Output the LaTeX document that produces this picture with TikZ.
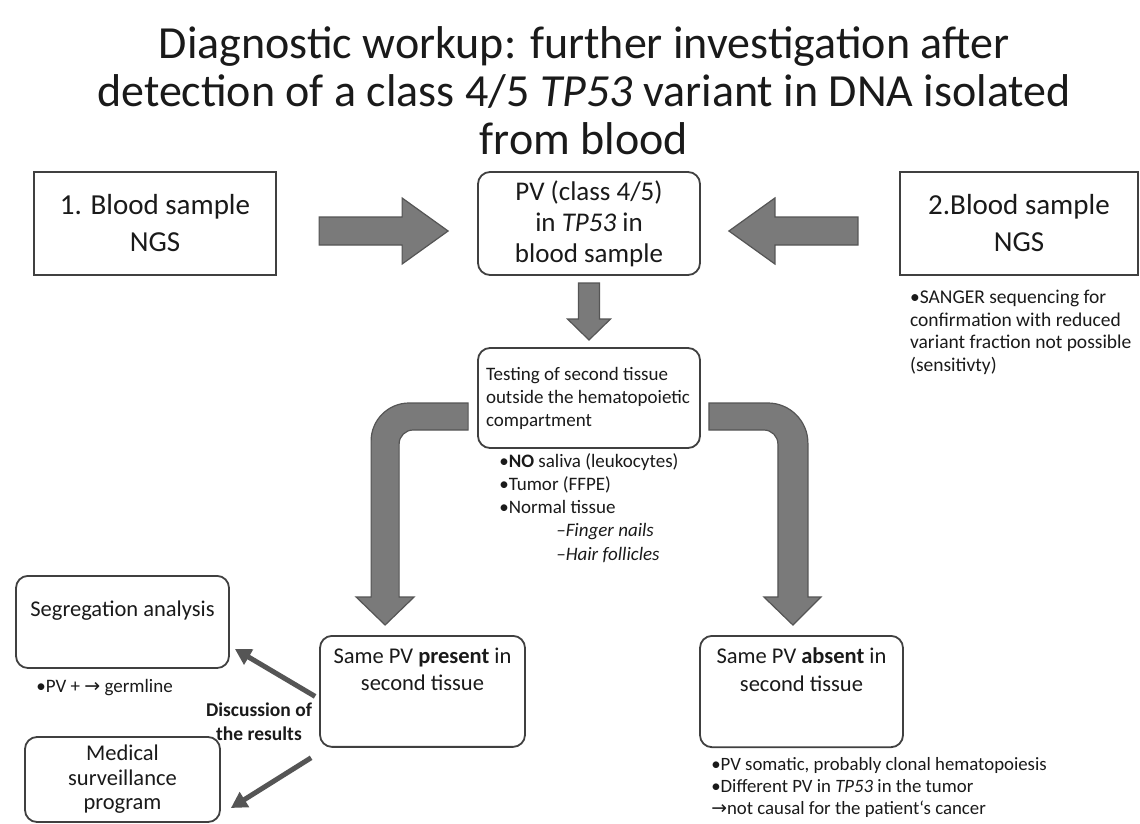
\documentclass[tikz,border=0pt]{standalone}
\usepackage{fontspec}
\setmainfont{Carlito}
\newfontfamily\symfont{DejaVu Sans}
\usetikzlibrary{arrows.meta,positioning,calc}
\definecolor{edge}{HTML}{404040}
\definecolor{fatfill}{HTML}{7A7A7A}
\definecolor{fatedge}{HTML}{555555}
\definecolor{ink}{HTML}{1A1A1A}
\tikzset{
  sqbox/.style={draw=edge, fill=white, line width=2.2pt, align=center, inner sep=4pt,
                text=ink, font=\fontsize{29}{37}\selectfont},
  rbox/.style={draw=edge, fill=white, line width=1.8pt, rounded corners=12pt,
               align=center, inner sep=4pt, text=ink, font=\fontsize{22.5}{27.5}\selectfont},
  note/.style={align=left, inner sep=0pt, text=ink, font=\fontsize{19}{22.5}\selectfont},
  fat/.style={fill=fatfill, draw=fatedge, line width=1.2pt},
  discarrow/.style={draw=fatedge, line width=5pt, -{Triangle[length=16pt,width=17pt]}}
}

\begin{document}
\begin{tikzpicture}[x=1pt,y=-1pt]
  \useasboundingbox (0,0) rectangle (1140,824);
  \fill[white] (0,0) rectangle (1140,824);

  \node[font=\fontsize{46}{48}\selectfont, align=center, text=ink] (title) at (584,91)
    {Diagnostic workup: further investigation after\\
     detection of a class 4/5 \textit{TP53} variant in DNA isolated\\
     from blood};

  % top row
  \node[sqbox, minimum width=242pt, minimum height=103pt] (ngs1) at (155,223.5) {1. Blood sample\\NGS};
  \node[rbox, font=\fontsize{27}{31}\selectfont, minimum width=222pt, minimum height=103pt] (pv) at (589,223.5)
    {PV (class 4/5)\\in \textit{TP53} in\\blood sample};
  \node[sqbox, minimum width=238pt, minimum height=103pt] (ngs2) at (1019,223.5) {2.Blood sample\\NGS};
  \node[note, font=\fontsize{19.5}{22.5}\selectfont, anchor=north west] (sanger) at ($(ngs2.south west)+(11,14)$)
    {•SANGER sequencing for\\confirmation with reduced\\variant fraction not possible\\(sensitivty)};

  % second tissue
  \node[rbox, font=\fontsize{19}{23}\selectfont, align=flush left, text width=206pt,
        minimum width=222pt, minimum height=100pt] (test) at (589,398)
    {Testing of second tissue\\outside the hematopoietic\\compartment};
  \node[note, anchor=north west, font=\fontsize{19}{23.3}\selectfont] (tissues) at ($(test.south west)+(22,4)$)
    {•\textbf{NO} saliva (leukocytes)\\•Tumor (FFPE)\\•Normal tissue\\
     \hspace*{57pt}\textit{–Finger nails}\\\hspace*{57pt}\textit{–Hair follicles}};

  % results
  \node[rbox, anchor=north, minimum width=205pt, inner ysep=12pt, text depth=44pt] (present) at (422.5,635)
    {Same PV \textbf{present} in\\second tissue};
  \node[rbox, anchor=north, minimum width=203pt, inner ysep=12pt, text depth=44pt] (absent) at (801.5,635)
    {Same PV \textbf{absent} in\\second tissue};
  \node[note, anchor=north west, font=\fontsize{18.8}{22}\selectfont] (causes) at ($(absent.south west)+(12,9)$)
    {•PV somatic, probably clonal hematopoiesis\\
     •Different PV in \textit{TP53} in the tumor\\
     {\symfont →}not causal for the patient‘s cancer};

  \node[rbox, anchor=north, minimum width=213pt, inner ysep=24.5pt, text depth=27.5pt] (seg) at (122.5,575)
    {Segregation analysis};
  \node[note, anchor=north west] (germ) at ($(seg.south west)+(21,10)$) {•PV + {\symfont →} germline};
  \node[rbox, font=\fontsize{22.5}{24.5}\selectfont, minimum width=195pt, minimum height=85pt] (med) at (122.5,779.5)
    {Medical\\surveillance\\program};

  % fat arrows
  \begin{scope}[shift={($(ngs1.east)!0.5!(pv.west)+(6.5,7.5)$)}]
    \filldraw[fat] (-64.5,-14) -- (18.5,-14) -- (18.5,-33) -- (64.5,0) -- (18.5,33) -- (18.5,14) -- (-64.5,14) -- cycle;
  \end{scope}
  \begin{scope}[shift={($(pv.east)!0.5!(ngs2.west)+(-6.5,7.5)$)}, rotate=180]
    \filldraw[fat] (-64.5,-14) -- (18.5,-14) -- (18.5,-33) -- (64.5,0) -- (18.5,33) -- (18.5,14) -- (-64.5,14) -- cycle;
  \end{scope}
  \begin{scope}[shift={($(pv.south)!0.5!(test.north)$)}, rotate=-90]
    \filldraw[fat] (-28.5,-10.5) -- (7.5,-10.5) -- (7.5,-21.5) -- (28.5,0) -- (7.5,21.5) -- (7.5,10.5) -- (-28.5,10.5) -- cycle;
  \end{scope}

  % bent arrows
  \filldraw[fat] ($(test.west)+(-9,5)$) -- ++(-59,0)
    .. controls +(-21,0) and +(0,-21) .. ++(-38,38)
    -- ++(0,156) -- ++(-15,0) -- ++(29,28) -- ++(29,-28) -- ++(-15,0) -- ++(0,-153)
    .. controls +(0,-7.7) and +(-7.7,0) .. ++(14,-14)
    -- ++(55,0) -- cycle;
  \filldraw[fat] ($(test.east)+(8,5)$) -- ++(59,0)
    .. controls +(22,0) and +(0,-22) .. ++(40,40)
    -- ++(0,154) -- ++(13,0) -- ++(-28,28) -- ++(-29,-28) -- ++(14,0) -- ++(0,-153)
    .. controls +(0,-7.7) and +(7.7,0) .. ++(-14,-14)
    -- ++(-55,0) -- cycle;

  % discussion
  \node[font=\bfseries\fontsize{19.5}{24}\selectfont, align=center, text=ink] (disc) at (259,722) {Discussion of\\the results};
  \draw[discarrow] ($(present.west)+(-4,5)$) -- ($(seg.east)+(5,27)$);
  \draw[discarrow] ($(present.south west)+(-8,10)$) -- ($(med.east)+(10,28.5)$);
\end{tikzpicture}
\end{document}
